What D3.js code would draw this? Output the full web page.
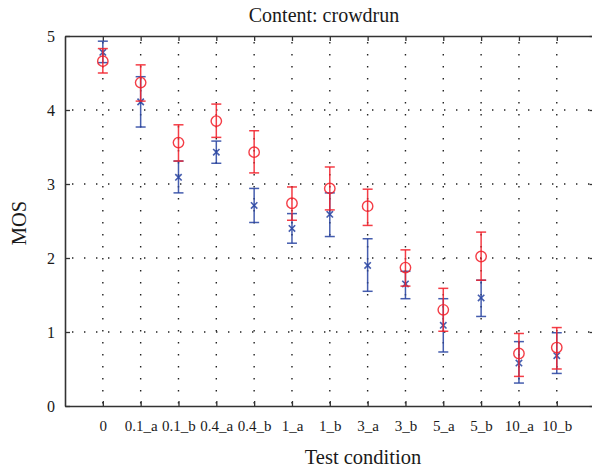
<!DOCTYPE html>
<html>
<head>
<meta charset="utf-8">
<script src="https://cdn.jsdelivr.net/npm/d3@7"></script>
<style>
  html, body { margin: 0; padding: 0; background: #fff; }
  svg { display: block; font-family: "Liberation Serif", "DejaVu Serif", serif; }
</style>
</head>
<body>
<svg id="chart" width="592" height="473"></svg>
<script>
const categories = ["0","0.1_a","0.1_b","0.4_a","0.4_b","1_a","1_b","3_a","3_b","5_a","5_b","10_a","10_b"];
const redMean  = [4.66,4.37,3.56,3.85,3.43,2.74,2.94,2.70,1.87,1.30,2.02,0.71,0.79];
const redLow   = [4.50,4.12,3.31,3.63,3.15,2.51,2.65,2.44,1.62,1.01,1.70,0.40,0.50];
const redHigh  = [4.83,4.61,3.80,4.08,3.72,2.96,3.23,2.93,2.11,1.59,2.35,0.98,1.06];
const blueMean = [4.78,4.11,3.09,3.43,2.71,2.40,2.59,1.90,1.65,1.09,1.46,0.58,0.68];
const blueLow  = [4.64,3.77,2.88,3.28,2.48,2.20,2.29,1.55,1.45,0.73,1.21,0.31,0.44];
const blueHigh = [4.93,4.45,3.31,3.58,2.94,2.60,2.88,2.26,1.82,1.45,1.70,0.87,0.99];
const yTicks = [0,1,2,3,4,5];

const svg = d3.select("#chart");
const L = 65, R = 594.6, T = 36, B = 406;
const x = d3.scaleLinear().domain([0, categories.length + 1]).range([L, R]);
const y = d3.scaleLinear().domain([0, 5]).range([B, T]);
const xi = i => x(i + 1);

const RED = "#f2222c", BLUE = "#2b47a3", AX = "#333";

// grid
const grid = svg.append("g").attr("stroke", "#222").attr("stroke-width", 1.4)
  .attr("stroke-dasharray", "1.4,10.6");
categories.forEach((c, i) => {
  grid.append("line").attr("x1", xi(i)).attr("x2", xi(i)).attr("y1", T + 6).attr("y2", B);
});
yTicks.filter(t => t > 0 && t < 5).forEach(t => {
  grid.append("line").attr("x1", L + 7).attr("x2", R).attr("y1", y(t)).attr("y2", y(t));
});

// axes
const xAxisB = d3.axisBottom(x).tickValues(categories.map((c, i) => i + 1))
  .tickFormat(d => categories[d - 1]).tickSizeInner(-5).tickSizeOuter(0).tickPadding(14);
const gxb = svg.append("g").attr("transform", `translate(0,${B})`).call(xAxisB);
const xAxisT = d3.axisTop(x).tickValues(categories.map((c, i) => i + 1))
  .tickFormat("").tickSizeInner(-5).tickSizeOuter(0);
const gxt = svg.append("g").attr("transform", `translate(0,${T})`).call(xAxisT);
const yAxisL = d3.axisLeft(y).tickValues(yTicks).tickFormat(d3.format("d"))
  .tickSizeInner(-5).tickSizeOuter(0).tickPadding(10);
const gyl = svg.append("g").attr("transform", `translate(${L},0)`).call(yAxisL);
const yAxisR = d3.axisRight(y).tickValues(yTicks).tickFormat("")
  .tickSizeInner(-5).tickSizeOuter(0);
const gyr = svg.append("g").attr("transform", `translate(${R},0)`).call(yAxisR);

[gxb, gxt, gyl, gyr].forEach(g => {
  g.select(".domain").attr("stroke", AX).attr("stroke-width", 1.6);
  g.selectAll(".tick line").attr("stroke", AX).attr("stroke-width", 1.3);
  g.selectAll(".tick text").attr("fill", "#1a1a1a").attr("font-size", 15)
    .attr("font-family", "Liberation Serif, serif");
});
gyl.selectAll(".tick text").attr("font-size", 16);

// error bars + markers
function drawSeries(mean, low, high, color, marker) {
  const g = svg.append("g").attr("stroke", color).attr("fill", "none")
    .attr("stroke-width", 1.5).attr("stroke-opacity", 0.88);
  const cw = 5;
  categories.forEach((c, i) => {
    const cx = xi(i);
    g.append("line").attr("x1", cx).attr("x2", cx).attr("y1", y(low[i])).attr("y2", y(high[i]));
    g.append("line").attr("x1", cx - cw).attr("x2", cx + cw).attr("y1", y(low[i])).attr("y2", y(low[i]));
    g.append("line").attr("x1", cx - cw).attr("x2", cx + cw).attr("y1", y(high[i])).attr("y2", y(high[i]));
    const cy = y(mean[i]);
    if (marker === "circle") {
      g.append("circle").attr("cx", cx).attr("cy", cy).attr("r", 5.2).attr("stroke-width", 1.4);
    } else {
      const s = 3.2;
      g.append("path").attr("d", `M${cx - s},${cy - s}L${cx + s},${cy + s}M${cx - s},${cy + s}L${cx + s},${cy - s}`)
        .attr("stroke-width", 1.6);
    }
  });
}
drawSeries(blueMean, blueLow, blueHigh, BLUE, "x");
drawSeries(redMean, redLow, redHigh, RED, "circle");

// titles
svg.append("text").attr("x", 324).attr("y", 22).attr("text-anchor", "middle")
  .attr("font-size", 20).attr("fill", "#1a1a1a").text("Content: crowdrun");
svg.append("text").attr("x", 363).attr("y", 464).attr("text-anchor", "middle")
  .attr("font-size", 20.5).attr("fill", "#1a1a1a").text("Test condition");
svg.append("text").attr("transform", "translate(26,223) rotate(-90)").attr("text-anchor", "middle")
  .attr("font-size", 20.5).attr("fill", "#1a1a1a").text("MOS");
</script>
</body>
</html>
